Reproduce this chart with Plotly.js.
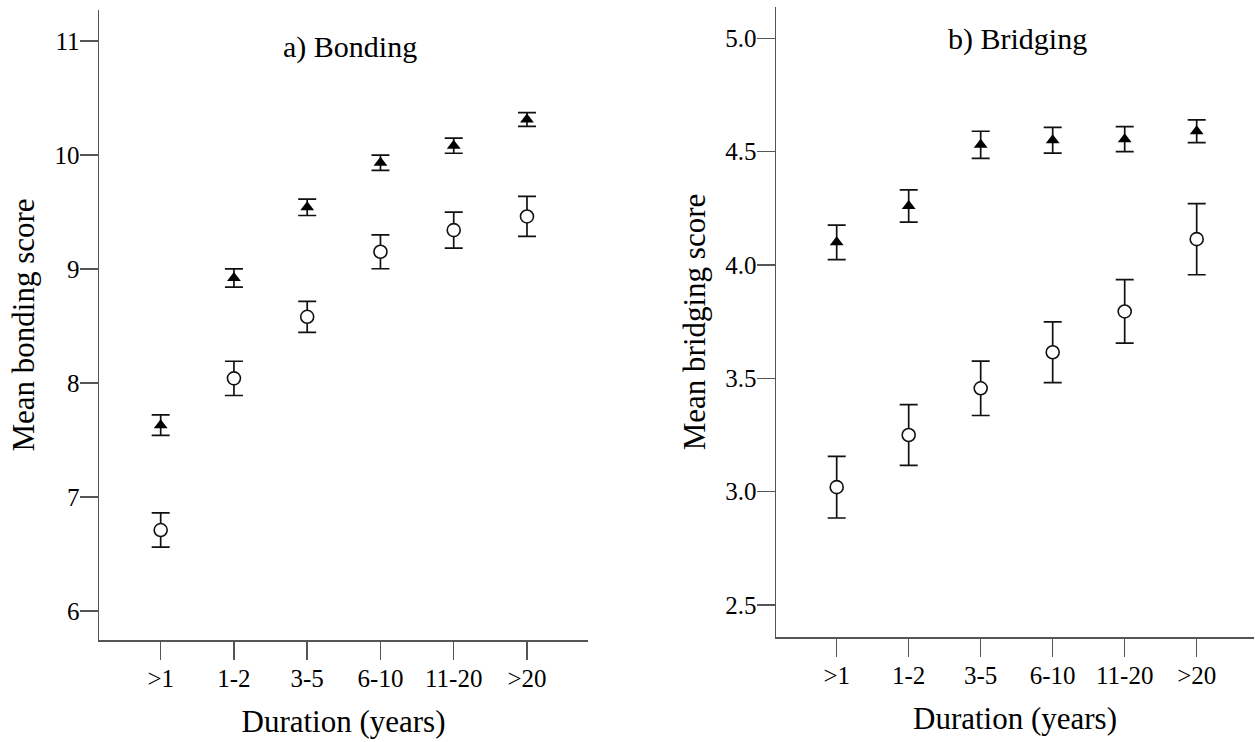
<!DOCTYPE html>
<html>
<head>
<meta charset="utf-8">
<script src="https://cdn.plot.ly/plotly-3.0.1.min.js"></script>
<style>html,body{margin:0;padding:0;background:#fff;}#chart{width:1255px;height:742px;}</style>
</head>
<body>
<div id="chart"></div>
<script>
// Categories (duration in years)
const categories = [">1", "1-2", "3-5", "6-10", "11-20", ">20"];

// a) Bonding — filled triangles (upper series) and open circles (lower series)
const bondingTriMean = [7.63, 8.92, 9.54, 9.93, 10.08, 10.31];
const bondingTriErr  = [0.09, 0.08, 0.072, 0.067, 0.066, 0.061];
const bondingCircMean = [6.71, 8.04, 8.58, 9.15, 9.34, 9.46];
const bondingCircErr  = [0.15, 0.15, 0.136, 0.149, 0.158, 0.175];

// b) Bridging
const bridgingTriMean = [4.10, 4.26, 4.53, 4.55, 4.555, 4.59];
const bridgingTriErr  = [0.076, 0.071, 0.060, 0.057, 0.055, 0.05];
const bridgingCircMean = [3.02, 3.25, 3.456, 3.615, 3.795, 4.114];
const bridgingCircErr  = [0.136, 0.134, 0.12, 0.134, 0.14, 0.157];

const FONT = "Liberation Serif, Times New Roman, serif";
const AX = "#555555";
const MK = "#000000";

function tri(x, y, e, xa, ya) {
  return {x: x, y: y, xaxis: xa, yaxis: ya, type: "scatter", mode: "markers",
    marker: {symbol: "triangle-up", size: 12, color: MK, line: {width: 0}},
    error_y: {type: "data", array: e, visible: true, color: "#111", thickness: 1.7, width: 9},
    showlegend: false, hoverinfo: "skip"};
}
function circ(x, y, e, xa, ya) {
  return {x: x, y: y, xaxis: xa, yaxis: ya, type: "scatter", mode: "markers",
    marker: {symbol: "circle", size: 13, color: "#fff", line: {width: 1.6, color: "#111"}},
    error_y: {type: "data", array: e, visible: true, color: "#111", thickness: 1.7, width: 9},
    showlegend: false, hoverinfo: "skip"};
}

const data = [
  circ(categories, bondingCircMean, bondingCircErr, "x", "y"),
  tri(categories, bondingTriMean, bondingTriErr, "x", "y"),
  circ(categories, bridgingCircMean, bridgingCircErr, "x2", "y2"),
  tri(categories, bridgingTriMean, bridgingTriErr, "x2", "y2")
];

function xaxisDef(domain, range) {
  return {domain: domain, type: "category", categoryorder: "array", categoryarray: categories,
    range: range, showline: true, linecolor: AX, linewidth: 1.5, showgrid: false, zeroline: false,
    ticks: "outside", ticklen: 18, tickwidth: 1.5, tickcolor: AX, ticklabelstandoff: -3,
    tickfont: {family: FONT, size: 25, color: "#000"},
    title: {text: "Duration (years)", font: {family: FONT, size: 31, color: "#000"}, standoff: 20},
    automargin: false, fixedrange: true};
}
function yaxisDef(domain, range, tickvals, ticktext, title, anchor) {
  return {domain: domain, range: range, anchor: anchor, showline: true, linecolor: AX, linewidth: 1.5,
    showgrid: false, zeroline: false, ticks: "outside", ticklen: 18, tickwidth: 1.5, tickcolor: AX,
    tickvals: tickvals, ticktext: ticktext, ticklabelstandoff: -5,
    tickfont: {family: FONT, size: 25, color: "#000"},
    title: {text: title, font: {family: FONT, size: 31, color: "#000"}, standoff: 10},
    automargin: false, fixedrange: true};
}

const layout = {
  width: 1255, height: 742,
  margin: {l: 0, r: 0, t: 0, b: 0},
  paper_bgcolor: "#fff", plot_bgcolor: "#fff",
  font: {family: FONT, color: "#000"},
  xaxis: Object.assign(xaxisDef([99/1255, 588/1255], [-0.842, 5.833]), {anchor: "y"}),
  yaxis: yaxisDef([102/742, 732/742], [5.746, 11.27], [6, 7, 8, 9, 10, 11], ["6", "7", "8", "9", "10", "11"], "Mean bonding score", "x"),
  xaxis2: Object.assign(xaxisDef([776/1255, 1254/1255], [-0.843, 5.796]), {anchor: "y2"}),
  yaxis2: yaxisDef([105/742, 735/742], [2.359, 5.138], [2.5, 3.0, 3.5, 4.0, 4.5, 5.0], ["2.5", "3.0", "3.5", "4.0", "4.5", "5.0"], "Mean bridging score", "x2"),
  annotations: [
    {text: "a) Bonding", xref: "paper", yref: "paper", x: 350/1255, y: 1 - 47/742, xanchor: "center", yanchor: "middle",
      showarrow: false, font: {family: FONT, size: 30, color: "#000"}},
    {text: "b) Bridging", xref: "paper", yref: "paper", x: 1017/1255, y: 1 - 39/742, xanchor: "center", yanchor: "middle",
      showarrow: false, font: {family: FONT, size: 30, color: "#000"}}
  ]
};

Plotly.newPlot("chart", data, layout, {displayModeBar: false, staticPlot: true});
</script>
</body>
</html>
